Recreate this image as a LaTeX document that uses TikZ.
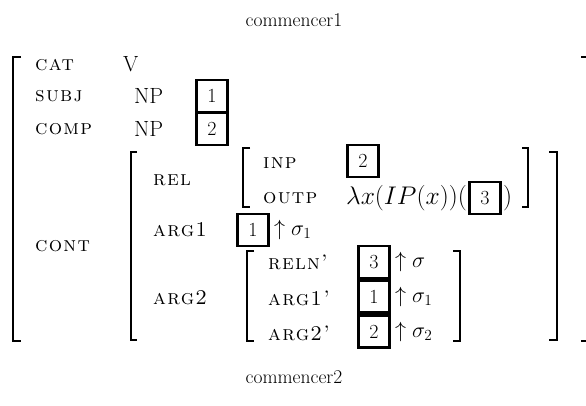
\RequirePackage{fix-cm}
\documentclass[tikz,border=0pt]{standalone}
\usepackage{fontspec}
\usepackage{amsmath}
\usetikzlibrary{positioning}
\newfontfamily\featfamily[Extension=.otf, Ligatures=TeX, LetterSpace=6]{lmromancaps10-regular}
\newcommand{\featfont}{\fontsize{21}{24}\selectfont\featfamily}
\tikzset{
	feat/.style={anchor=west, inner sep=0pt, font=\featfont},
	val/.style={anchor=west, inner sep=0pt, font=\fontsize{22}{26}\selectfont},
	mathval/.style={anchor=west, inner sep=0pt, font=\fontsize{25.5}{30}\selectfont},
	tagbox/.style={draw, line width=2.8pt, minimum width=31pt, minimum height=32pt,
		inner sep=0pt, font=\fontsize{20}{24}\selectfont},
	avmbrack/.style={line width=2.2pt},
	avmname/.style={font=\fontsize{19.5}{23}\selectfont}
}

\begin{document}
\begin{tikzpicture}[x=1pt, y=-1pt]
	\useasboundingbox (0,0) rectangle (586,405);
	\node[avmname] (name1) at (294,20) {commencer1};
	\node[avmname] (name2) at (294,377) {commencer2};
	% outer matrix
	\node[feat] (cat) at (35,65) {cat};
	\node[val] (v) at (123,64) {V};
	\node[feat] (subj) at (35,96) {subj};
	\node[val] (np1) at (134,96) {NP};
	\node[tagbox] (tag1) at (212,96) {1};
	\node[feat] (comp) at (35,129) {comp};
	\node[val] (np2) at (134,129) {NP};
	\node[tagbox] (tag2) at (212,129) {2};
	\node[feat] (cont) at (35,246) {cont};
	% cont value
	\node[feat] (rel) at (153,180) {rel};
	\node[feat] (inp) at (263,163) {inp};
	\node[tagbox, anchor=west] (inptag) at (346,161) {2};
	\node[feat] (outp) at (263,198) {outp};
	\node[mathval] (lam) at (346,198) {$\lambda x(IP(x))($};
	\node[tagbox, right=1pt of lam] (outtag) {3};
	\node[mathval, right=1pt of outtag] (rpar) {$)$};
	\node[feat] (arg1) at (153,230) {arg1};
	\node[tagbox, anchor=west] (arg1tag) at (236,230) {1};
	\node[val, right=4pt of arg1tag] (up1) {$\uparrow\sigma_1$};
	\node[feat] (arg2) at (153,298) {arg2};
	\node[feat] (reln) at (268,262) {reln'};
	\node[tagbox] (relntag) at (374,262) {3};
	\node[val, right=4pt of relntag] (up) {$\uparrow\sigma$};
	\node[feat] (arga) at (268,298) {arg1'};
	\node[tagbox, below=0pt of relntag] (argatag) {1};
	\node[val, right=4pt of argatag] (upa) {$\uparrow\sigma_1$};
	\node[feat] (argb) at (268,333) {arg2'};
	\node[tagbox, below=0pt of argatag] (argbtag) {2};
	\node[val, right=4pt of argbtag] (upb) {$\uparrow\sigma_2$};
	% brackets
	\draw[avmbrack] (21,57) -| (13,341) -- (21,341);
	\draw[avmbrack] (581,57) -| (588,341) -- (581,341);
	\draw[avmbrack] (137,152) -| (131,340) -- (137,340);
	\draw[avmbrack] (549,152) -| (557,340) -- (549,340);
	\draw[avmbrack] (250,148) -| (243,207) -- (250,207);
	\draw[avmbrack] (522,148) -| (528,207) -- (522,207);
	\draw[avmbrack] (254,251) -| (247,341) -- (254,341);
	\draw[avmbrack] (453,251) -| (460,341) -- (453,341);
\end{tikzpicture}
\end{document}
